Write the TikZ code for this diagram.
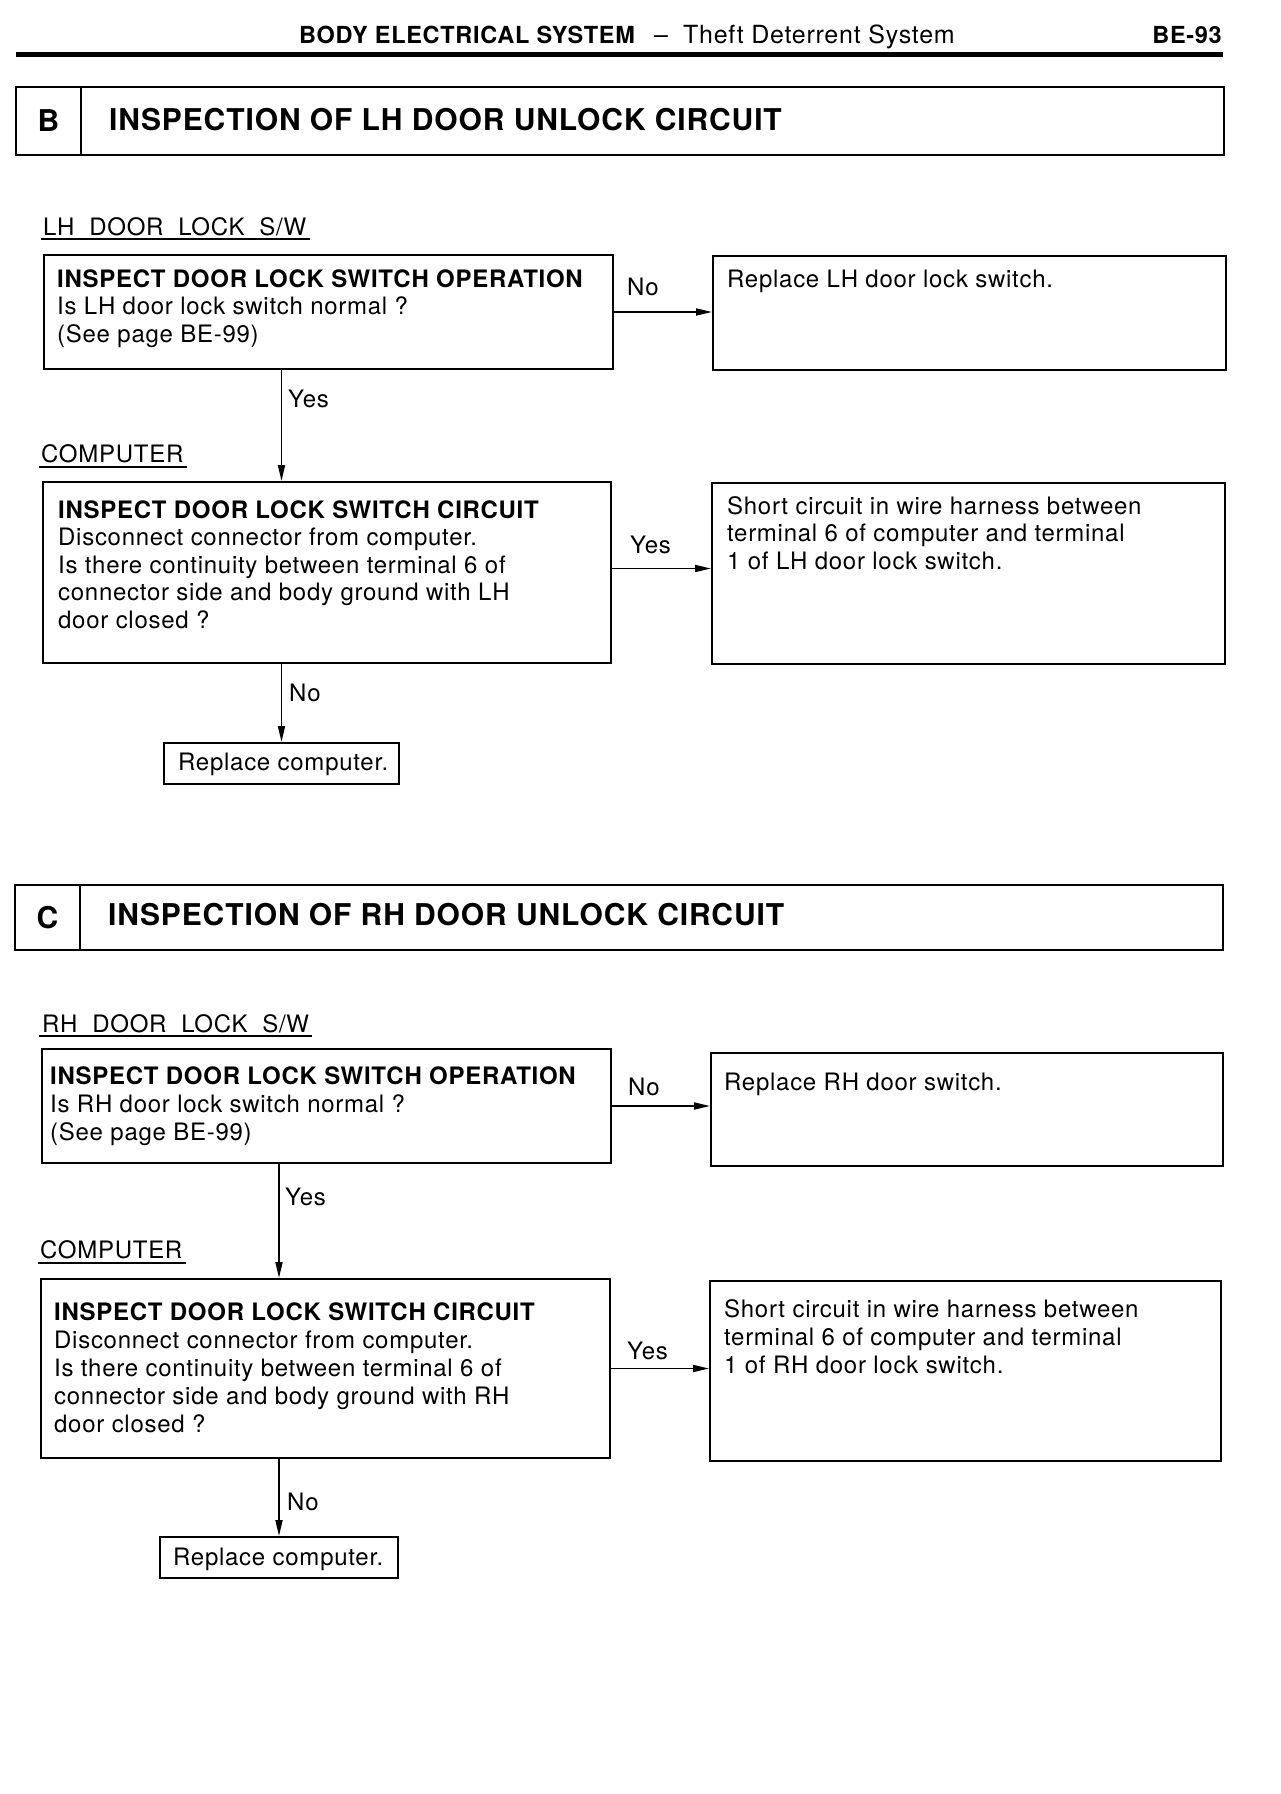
\documentclass[tikz,border=0pt]{standalone}
\usepackage{fontspec}
\setmainfont{TeX Gyre Heros}[LetterSpace=3]
\usetikzlibrary{arrows.meta}
\begin{document}
\begin{tikzpicture}[x=1pt,y=-1pt,
  box/.style={draw,line width=2pt,anchor=north west,inner sep=0pt},
  txt/.style={anchor=base west,inner sep=0pt,font=\fontsize{24}{27.5}\selectfont},
  lbl/.style={anchor=base west,inner sep=0pt,font=\fontsize{24}{28}\selectfont},
  ttl/.style={anchor=base west,inner sep=0pt,font=\fontsize{30}{34}\bfseries\selectfont},
  cell/.style={box,font=\fontsize{30}{34}\bfseries\selectfont},
  arr/.style={line width=1.8pt,-{Triangle[length=16pt,width=7pt]}},
  uline/.style={line width=1.8pt}]
\useasboundingbox[fill=white] (0,0) rectangle (1280,1794);

% page header
\node[anchor=base west,inner sep=0pt,font=\fontsize{23.5}{28}\bfseries\selectfont] (hd) at (299,43)
  {BODY ELECTRICAL SYSTEM};
\node[anchor=base west,inner sep=0pt,font=\fontsize{25}{28}\selectfont] (hd2) at (654,43)
  {–\hspace{15pt}Theft Deterrent System};
\node[anchor=base east,inner sep=0pt,font=\fontsize{23.5}{28}\bfseries\selectfont] (pg) at (1222,43) {BE-93};
\coordinate (rl) at (16,54);
\coordinate (rr) at (1223,54);
\draw[line width=5pt] (rl) -- (rr);

% ===== Section B =====
\node[cell,minimum width=65pt,minimum height=68pt] (cB) at (15,86) {B};
\node[box,minimum width=1143pt,minimum height=68pt] (tB) at (80,86) {};
\node[ttl] (tBt) at (109,130) {INSPECTION OF LH DOOR UNLOCK CIRCUIT};

\node[lbl] (lhsw) at (43,235) {LH\ \ DOOR\ \ LOCK\ \ S/W};
\draw[uline] ([shift={(-2pt,-4pt)}]lhsw.base west) -- ([shift={(4pt,-4pt)}]lhsw.base east);

\node[box,minimum width=569pt,minimum height=114pt] (b1) at (43,254) {};
\node[txt] (b1t) at (57,287) {\parbox[t]{548pt}{\raggedright
  \textbf{INSPECT DOOR LOCK SWITCH OPERATION}\\
  Is LH door lock switch normal ?\\
  (See page BE-99)}};
\node[box,minimum width=513pt,minimum height=114pt] (b2) at (712,255) {};
\node[txt] (b2t) at (727,287) {Replace LH door lock switch.};
\draw[arr] (b1.east) -- (b1.east -| b2.west);
\node[lbl] (no1) at (627,295) {No};

\node[lbl] (comp1) at (41,462) {COMPUTER};
\draw[uline] ([shift={(-2pt,-5pt)}]comp1.base west) -- ([shift={(3pt,-5pt)}]comp1.base east);

\node[box,minimum width=568pt,minimum height=181pt] (b3) at (42,481) {};
\node[txt] (b3t) at (58,518) {\parbox[t]{548pt}{\raggedright
  \textbf{INSPECT DOOR LOCK SWITCH CIRCUIT}\\
  Disconnect connector from computer.\\
  Is there continuity between terminal 6 of\\
  connector side and body ground with LH\\
  door closed ?}};
\node[box,minimum width=513pt,minimum height=181pt] (b4) at (711,482) {};
\node[txt] (b4t) at (727,514) {\parbox[t]{490pt}{\raggedright
  Short circuit in wire harness between\\
  terminal 6 of computer and terminal\\
  1 of LH door lock switch.}};
\draw[arr] ([yshift=4pt]b3.east) -- ([yshift=4pt]b3.east -| b4.west);
\node[lbl] (yes2) at (630,553) {Yes};

\node[box,minimum width=235pt,minimum height=41pt] (rc1) at (163,742) {};
\node[lbl] (rc1t) at (178,770) {Replace computer.};
\draw[arr] (b1.south -| rc1.north) -- (b3.north -| rc1.north);
\node[lbl] (yes1) at (288,407) {Yes};
\draw[arr] (b3.south -| rc1.north) -- (rc1.north);
\node[lbl] (no2) at (289,701) {No};

% ===== Section C =====
\node[cell,minimum width=65pt,minimum height=65pt] (cC) at (14,884) {C};
\node[box,minimum width=1143pt,minimum height=65pt] (tC) at (79,884) {};
\node[ttl] (tCt) at (108,925) {INSPECTION OF RH DOOR UNLOCK CIRCUIT};

\node[lbl] (rhsw) at (42,1032) {RH\ \ DOOR\ \ LOCK\ \ S/W};
\draw[uline] ([shift={(-3pt,-4pt)}]rhsw.base west) -- ([shift={(3pt,-4pt)}]rhsw.base east);

\node[box,minimum width=569pt,minimum height=114pt] (b5) at (41,1048) {};
\node[txt] (b5t) at (50,1084) {\parbox[t]{555pt}{\raggedright
  \textbf{INSPECT DOOR LOCK SWITCH OPERATION}\\[0.5pt]
  Is RH door lock switch normal ?\\[0.5pt]
  (See page BE-99)}};
\node[box,minimum width=512pt,minimum height=113pt] (b6) at (710,1052) {};
\node[txt] (b6t) at (724,1090) {Replace RH door switch.};
\draw[arr] (b5.east) -- (b5.east -| b6.west);
\node[lbl] (no3) at (628,1095) {No};

\node[lbl] (comp2) at (40,1258) {COMPUTER};
\draw[uline] ([shift={(-2pt,-5pt)}]comp2.base west) -- ([shift={(3pt,-5pt)}]comp2.base east);

\node[box,minimum width=569pt,minimum height=179pt] (b7) at (40,1278) {};
\node[txt] (b7t) at (54,1320) {\parbox[t]{550pt}{\raggedright
  \textbf{INSPECT DOOR LOCK SWITCH CIRCUIT}\\[0.5pt]
  Disconnect connector from computer.\\[0.5pt]
  Is there continuity between terminal 6 of\\[0.5pt]
  connector side and body ground with RH\\[0.5pt]
  door closed ?}};
\node[box,minimum width=511pt,minimum height=180pt] (b8) at (709,1280) {};
\node[txt] (b8t) at (724,1317) {\parbox[t]{490pt}{\raggedright
  Short circuit in wire harness between\\[0.5pt]
  terminal 6 of computer and terminal\\[0.5pt]
  1 of RH door lock switch.}};
\draw[arr] (b7.east) -- (b7.east -| b8.west);
\node[lbl] (yes4) at (627,1359) {Yes};

\node[box,minimum width=238pt,minimum height=41pt] (rc2) at (159,1536) {};
\node[lbl] (rc2t) at (173,1565) {Replace computer.};
\draw[arr] (b5.south -| rc2.north) -- (b7.north -| rc2.north);
\node[lbl] (yes3) at (285,1205) {Yes};
\draw[arr] (b7.south -| rc2.north) -- (rc2.north);
\node[lbl] (no4) at (287,1510) {No};
\end{tikzpicture}
\end{document}
